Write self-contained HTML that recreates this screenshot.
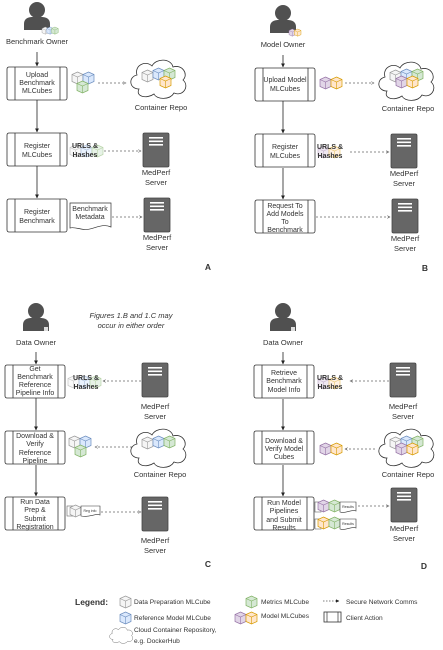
<!DOCTYPE html>
<html><head><meta charset="utf-8"><style>
html,body{margin:0;padding:0;background:#fff;width:443px;height:650px;overflow:hidden}
svg text{font-family:"Liberation Sans",sans-serif;fill:#333}
</style></head><body>
<svg width="443" height="650" viewBox="0 0 443 650" xmlns="http://www.w3.org/2000/svg">
<defs>
<g id="cg"><polygon points="5.5,0 11,2.5 11,9.5 5.5,12 0,9.5 0,2.5" fill="#f5f5f5" stroke="#999" stroke-width="0.7"/><polyline points="0,2.5 5.5,5 11,2.5" fill="none" stroke="#999" stroke-width="0.6"/><line x1="5.5" y1="5" x2="5.5" y2="12" stroke="#999" stroke-width="0.6"/></g>
<g id="cb"><polygon points="5.5,0 11,2.5 11,9.5 5.5,12 0,9.5 0,2.5" fill="#dae8fc" stroke="#6c8ebf" stroke-width="0.7"/><polyline points="0,2.5 5.5,5 11,2.5" fill="none" stroke="#6c8ebf" stroke-width="0.6"/><line x1="5.5" y1="5" x2="5.5" y2="12" stroke="#6c8ebf" stroke-width="0.6"/></g>
<g id="cgr"><polygon points="5.5,0 11,2.5 11,9.5 5.5,12 0,9.5 0,2.5" fill="#d5e8d4" stroke="#82b366" stroke-width="0.7"/><polyline points="0,2.5 5.5,5 11,2.5" fill="none" stroke="#82b366" stroke-width="0.6"/><line x1="5.5" y1="5" x2="5.5" y2="12" stroke="#82b366" stroke-width="0.6"/></g>
<g id="cp"><polygon points="5.5,0 11,2.5 11,9.5 5.5,12 0,9.5 0,2.5" fill="#e1d5e7" stroke="#9673a6" stroke-width="0.7"/><polyline points="0,2.5 5.5,5 11,2.5" fill="none" stroke="#9673a6" stroke-width="0.6"/><line x1="5.5" y1="5" x2="5.5" y2="12" stroke="#9673a6" stroke-width="0.6"/></g>
<g id="co"><polygon points="5.5,0 11,2.5 11,9.5 5.5,12 0,9.5 0,2.5" fill="#ffe6cc" stroke="#d79b00" stroke-width="0.7"/><polyline points="0,2.5 5.5,5 11,2.5" fill="none" stroke="#d79b00" stroke-width="0.6"/><line x1="5.5" y1="5" x2="5.5" y2="12" stroke="#d79b00" stroke-width="0.6"/></g>
<g id="person"><circle cx="0" cy="-8" r="8" fill="#505050"/><path d="M-13,12 L-13,6 C-13,0 -8,-1 -4,-1 L4,-1 C8,-1 13,0 13,6 L13,12 Z" fill="#505050"/></g>
<g id="server"><rect x="0" y="0" width="26" height="34" rx="1.5" fill="#666" stroke="#444" stroke-width="0.8"/><rect x="6" y="4" width="14" height="1.6" fill="#fff"/><rect x="6" y="7.5" width="14" height="1.6" fill="#fff"/><rect x="6" y="11" width="14" height="1.6" fill="#fff"/></g>
<g id="cloud"><path d="M12,32 C2,32 1,20 10,18 C7,8 19,3 25,9 C29,1 44,1 46,10 C55,7 62,17 56,23 C63,29 56,40 47,36 C43,43 30,43 27,37 C20,42 8,40 12,32 Z" fill="#fff" stroke="#333" stroke-width="0.8"/></g>
<g id="box"><rect x="0" y="0" width="60" height="33" rx="2" fill="#fff" stroke="#333" stroke-width="0.8"/><line x1="8" y1="0" x2="8" y2="33" stroke="#333" stroke-width="0.8"/><line x1="53" y1="0" x2="53" y2="33" stroke="#333" stroke-width="0.8"/></g>
<marker id="ar" viewBox="0 0 10 10" refX="9" refY="5" markerWidth="5" markerHeight="5" orient="auto"><path d="M0,0 L10,5 L0,10 Z" fill="#222"/></marker>
<marker id="ao" viewBox="0 0 10 10" refX="9" refY="5" markerWidth="5" markerHeight="5" orient="auto"><path d="M1,1 L9,5 L1,9" fill="none" stroke="#666" stroke-width="1.5"/></marker>
</defs>

<g font-size="7" text-anchor="middle">
<!-- Panel A -->
<use href="#person" x="37" y="18"/>
<g transform="translate(42,27) scale(0.6)"><use href="#cg" x="0" y="0"/><use href="#cb" x="8" y="0"/><use href="#cgr" x="16" y="0"/></g>
<text x="37" y="44" font-size="7.5">Benchmark Owner</text>
<line x1="37" y1="52" x2="37" y2="66" stroke="#222" stroke-width="0.8" marker-end="url(#ar)"/>
<use href="#box" x="7" y="67"/>
<text x="37" y="77">Upload</text><text x="37" y="85">Benchmark</text><text x="37" y="93">MLCubes</text>
<use href="#cg" x="72" y="72"/><use href="#cb" x="83" y="72"/><use href="#cgr" x="77" y="81"/>
<line x1="98" y1="83" x2="126" y2="83" stroke="#666" stroke-width="0.7" stroke-dasharray="2,2" marker-end="url(#ao)"/>
<g transform="translate(127,57)"><use href="#cloud"/></g>
<use href="#cg" x="142" y="70"/><use href="#cb" x="153" y="68"/><use href="#cgr" x="164" y="68"/><use href="#co" x="160" y="76"/>
<text x="161" y="110" font-size="7.5">Container Repo</text>
<line x1="37" y1="100" x2="37" y2="132" stroke="#222" stroke-width="0.8" marker-end="url(#ar)"/>
<use href="#box" x="7" y="133"/>
<text x="37" y="148">Register</text><text x="37" y="157">MLCubes</text>
<g opacity="0.55"><use href="#cg" x="70" y="145"/><use href="#cb" x="81" y="145"/><use href="#cgr" x="92" y="145"/></g>
<text x="85" y="148" font-weight="bold">URLS &amp;</text><text x="85" y="157" font-weight="bold">Hashes</text>
<line x1="104" y1="151" x2="141" y2="151" stroke="#666" stroke-width="0.7" stroke-dasharray="2,2" marker-end="url(#ao)"/>
<use href="#server" x="143" y="133"/>
<text x="156" y="175" font-size="7.5">MedPerf</text><text x="156" y="185" font-size="7.5">Server</text>
<line x1="37" y1="166" x2="37" y2="198" stroke="#222" stroke-width="0.8" marker-end="url(#ar)"/>
<use href="#box" x="7" y="199"/>
<text x="37" y="214">Register</text><text x="37" y="223">Benchmark</text>
<path d="M70,203 L111,203 L111,227 C100,222 92,232 81,229 C76,228 73,227 70,228 Z" fill="#fff" stroke="#333" stroke-width="0.7"/>
<text x="90" y="211">Benchmark</text><text x="90" y="219">Metadata</text>
<line x1="112" y1="217" x2="142" y2="217" stroke="#666" stroke-width="0.7" stroke-dasharray="2,2" marker-end="url(#ao)"/>
<use href="#server" x="144" y="198"/>
<text x="157" y="240" font-size="7.5">MedPerf</text><text x="157" y="250" font-size="7.5">Server</text>
<text x="208" y="270" font-size="8.5" font-weight="bold">A</text>

<!-- Panel B -->
<use href="#person" x="283" y="21"/>
<g transform="translate(289,29) scale(0.6)"><use href="#cp" x="0" y="0"/><use href="#co" x="9" y="0"/></g>
<text x="283" y="47" font-size="7.5">Model Owner</text>
<line x1="283" y1="55" x2="283" y2="67" stroke="#222" stroke-width="0.8" marker-end="url(#ar)"/>
<use href="#box" x="255" y="68"/>
<text x="285" y="82">Upload Model</text><text x="285" y="91">MLCubes</text>
<use href="#cp" x="320" y="77"/><use href="#co" x="331" y="77"/>
<line x1="345" y1="83" x2="374" y2="83" stroke="#666" stroke-width="0.7" stroke-dasharray="2,2" marker-end="url(#ao)"/>
<g transform="translate(375,59)"><use href="#cloud"/></g>
<use href="#cg" x="390" y="70"/><use href="#cb" x="401" y="69"/><use href="#cgr" x="412" y="69"/><use href="#cp" x="396" y="76"/><use href="#co" x="407" y="76"/>
<text x="408" y="111" font-size="7.5">Container Repo</text>
<line x1="283" y1="101" x2="283" y2="133" stroke="#222" stroke-width="0.8" marker-end="url(#ar)"/>
<use href="#box" x="255" y="134"/>
<text x="285" y="149">Register</text><text x="285" y="158">MLCubes</text>
<g opacity="0.55"><use href="#cp" x="318" y="146"/><use href="#co" x="329" y="146"/></g>
<text x="330" y="149" font-weight="bold">URLS &amp;</text><text x="330" y="158" font-weight="bold">Hashes</text>
<line x1="350" y1="152" x2="389" y2="152" stroke="#666" stroke-width="0.7" stroke-dasharray="2,2" marker-end="url(#ao)"/>
<use href="#server" x="391" y="134"/>
<text x="404" y="176" font-size="7.5">MedPerf</text><text x="404" y="186" font-size="7.5">Server</text>
<line x1="283" y1="168" x2="283" y2="199" stroke="#222" stroke-width="0.8" marker-end="url(#ar)"/>
<use href="#box" x="255" y="200"/>
<text x="285" y="208">Request To</text><text x="285" y="216">Add Models</text><text x="285" y="224">To</text><text x="285" y="232">Benchmark</text>
<line x1="316" y1="217" x2="390" y2="217" stroke="#666" stroke-width="0.7" stroke-dasharray="2,2" marker-end="url(#ao)"/>
<use href="#server" x="392" y="199"/>
<text x="405" y="241" font-size="7.5">MedPerf</text><text x="405" y="251" font-size="7.5">Server</text>
<text x="425" y="271" font-size="8.5" font-weight="bold">B</text>

<!-- Panel C -->
<text x="131" y="318" font-style="italic" font-size="7.5">Figures 1.B and 1.C may</text>
<text x="131" y="328" font-style="italic" font-size="7.5">occur in either order</text>
<use href="#person" x="36" y="319"/>
<rect x="44" y="327" width="4" height="4" fill="#ddd"/>
<text x="36" y="345" font-size="7.5">Data Owner</text>
<line x1="36" y1="352" x2="36" y2="364" stroke="#222" stroke-width="0.8" marker-end="url(#ar)"/>
<use href="#box" x="5" y="365"/>
<text x="35" y="371">Get</text><text x="35" y="379">Benchmark</text><text x="35" y="387">Reference</text><text x="35" y="395">Pipeline Info</text>
<g opacity="0.55"><use href="#cg" x="68" y="376"/><use href="#cb" x="79" y="376"/><use href="#cgr" x="90" y="376"/></g>
<text x="86" y="380" font-weight="bold">URLS &amp;</text><text x="86" y="389" font-weight="bold">Hashes</text>
<line x1="141" y1="381" x2="103" y2="381" stroke="#666" stroke-width="0.7" stroke-dasharray="2,2" marker-end="url(#ao)"/>
<use href="#server" x="142" y="363"/>
<text x="155" y="409" font-size="7.5">MedPerf</text><text x="155" y="419" font-size="7.5">Server</text>
<line x1="36" y1="398" x2="36" y2="430" stroke="#222" stroke-width="0.8" marker-end="url(#ar)"/>
<use href="#box" x="5" y="431"/>
<text x="35" y="438">Download &amp;</text><text x="35" y="446">Verify</text><text x="35" y="455">Reference</text><text x="35" y="463">Pipeline</text>
<use href="#cg" x="69" y="436"/><use href="#cb" x="80" y="436"/><use href="#cgr" x="75" y="445"/>
<line x1="140" y1="447" x2="95" y2="447" stroke="#666" stroke-width="0.7" stroke-dasharray="2,2" marker-end="url(#ao)"/>
<g transform="translate(127,426)"><use href="#cloud"/></g>
<use href="#cg" x="142" y="437"/><use href="#cb" x="153" y="436"/><use href="#cgr" x="164" y="436"/>
<text x="160" y="477" font-size="7.5">Container Repo</text>
<line x1="36" y1="465" x2="36" y2="496" stroke="#222" stroke-width="0.8" marker-end="url(#ar)"/>
<use href="#box" x="5" y="497"/>
<text x="35" y="504">Run Data</text><text x="35" y="512">Prep &amp;</text><text x="35" y="521">Submit</text><text x="35" y="529">Registration</text>
<rect x="67" y="506" width="6" height="10" fill="#fff" stroke="#666" stroke-width="0.6"/>
<use href="#cg" x="70" y="505"/>
<path d="M81,506 L100,506 L100,515 C95,513 90,518 81,516 Z" fill="#fff" stroke="#333" stroke-width="0.6"/>
<text x="90" y="512" font-size="3.5">Reg info</text>
<line x1="101" y1="512" x2="141" y2="512" stroke="#666" stroke-width="0.7" stroke-dasharray="2,2" marker-end="url(#ao)"/>
<use href="#server" x="142" y="497"/>
<text x="155" y="543" font-size="7.5">MedPerf</text><text x="155" y="553" font-size="7.5">Server</text>
<text x="208" y="567" font-size="8.5" font-weight="bold">C</text>

<!-- Panel D -->
<use href="#person" x="283" y="319"/>
<rect x="291" y="327" width="4" height="4" fill="#ddd"/>
<text x="283" y="345" font-size="7.5">Data Owner</text>
<line x1="283" y1="352" x2="283" y2="364" stroke="#222" stroke-width="0.8" marker-end="url(#ar)"/>
<use href="#box" x="254" y="365"/>
<text x="284" y="375">Retrieve</text><text x="284" y="383">Benchmark</text><text x="284" y="392">Model Info</text>
<g opacity="0.55"><use href="#cp" x="318" y="377"/><use href="#co" x="329" y="377"/></g>
<text x="330" y="380" font-weight="bold">URLS &amp;</text><text x="330" y="389" font-weight="bold">Hashes</text>
<line x1="389" y1="381" x2="350" y2="381" stroke="#666" stroke-width="0.7" stroke-dasharray="2,2" marker-end="url(#ao)"/>
<use href="#server" x="390" y="363"/>
<text x="403" y="409" font-size="7.5">MedPerf</text><text x="403" y="419" font-size="7.5">Server</text>
<line x1="283" y1="399" x2="283" y2="430" stroke="#222" stroke-width="0.8" marker-end="url(#ar)"/>
<use href="#box" x="254" y="431"/>
<text x="284" y="443">Download &amp;</text><text x="284" y="451">Verify Model</text><text x="284" y="459">Cubes</text>
<use href="#cp" x="320" y="443"/><use href="#co" x="331" y="443"/>
<line x1="375" y1="449" x2="345" y2="449" stroke="#666" stroke-width="0.7" stroke-dasharray="2,2" marker-end="url(#ao)"/>
<g transform="translate(375,426)"><use href="#cloud"/></g>
<use href="#cg" x="390" y="437"/><use href="#cb" x="401" y="436"/><use href="#cgr" x="412" y="436"/><use href="#cp" x="396" y="443"/><use href="#co" x="407" y="443"/>
<text x="408" y="477" font-size="7.5">Container Repo</text>
<line x1="283" y1="465" x2="283" y2="496" stroke="#222" stroke-width="0.8" marker-end="url(#ar)"/>
<use href="#box" x="254" y="497"/>
<text x="284" y="505">Run Model</text><text x="284" y="513">Pipelines</text><text x="284" y="522">and Submit</text><text x="284" y="530">Results</text>
<rect x="315" y="502" width="6" height="10" fill="#fff" stroke="#666" stroke-width="0.6"/>
<use href="#cp" x="318" y="500"/><use href="#cgr" x="329" y="500"/>
<path d="M340,502 L356,502 L356,511 C351,509 346,514 340,512 Z" fill="#fff" stroke="#333" stroke-width="0.6"/>
<text x="348" y="508" font-size="3.5">Results</text>
<rect x="315" y="519" width="6" height="10" fill="#fff" stroke="#666" stroke-width="0.6"/>
<use href="#co" x="318" y="517"/><use href="#cgr" x="329" y="517"/>
<path d="M340,519 L356,519 L356,528 C351,526 346,531 340,529 Z" fill="#fff" stroke="#333" stroke-width="0.6"/>
<text x="348" y="525" font-size="3.5">Results</text>
<line x1="358" y1="506" x2="389" y2="506" stroke="#666" stroke-width="0.7" stroke-dasharray="2,2" marker-end="url(#ao)"/>
<use href="#server" x="391" y="488"/>
<text x="404" y="531" font-size="7.5">MedPerf</text><text x="404" y="541" font-size="7.5">Server</text>
<text x="424" y="569" font-size="8.5" font-weight="bold">D</text>
</g>

<!-- Legend -->
<g font-size="6.6" text-anchor="start">
<text x="75" y="605" font-size="8.5" font-weight="bold" fill="#555">Legend:</text>
<use href="#cg" x="120" y="596"/><text x="134" y="604">Data Preparation MLCube</text>
<use href="#cgr" x="246" y="596"/><text x="261" y="604">Metrics MLCube</text>
<line x1="323" y1="601" x2="339" y2="601" stroke="#555" stroke-width="0.7" stroke-dasharray="1.5,1.5" marker-end="url(#ar)"/>
<text x="346" y="604">Secure Network Comms</text>
<use href="#cb" x="120" y="612"/><text x="134" y="620">Reference Model MLCube</text>
<use href="#cp" x="235" y="612"/><use href="#co" x="246" y="612"/><text x="261" y="618">Model MLCubes</text>
<rect x="324" y="612" width="17" height="10" fill="#fff" stroke="#333" stroke-width="0.8"/>
<line x1="327" y1="612" x2="327" y2="622" stroke="#333" stroke-width="0.7"/><line x1="338" y1="612" x2="338" y2="622" stroke="#333" stroke-width="0.7"/>
<text x="346" y="620">Client Action</text>
<g transform="translate(108,626) scale(0.42)"><use href="#cloud"/></g>
<text x="134" y="632">Cloud Container Repository,</text>
<text x="134" y="643">e.g. DockerHub</text>
</g>
</svg>
</body></html>
